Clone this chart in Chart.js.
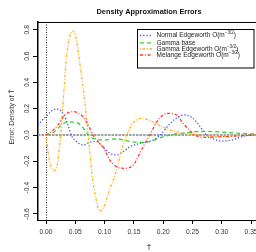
<!DOCTYPE html>
<html><head><meta charset="utf-8">
<script src="https://cdn.jsdelivr.net/npm/chart.js@4/dist/chart.umd.min.js"></script>
<style>html,body{margin:0;padding:0;background:#fff;overflow:hidden}canvas{display:block}</style>
</head><body>
<canvas id="c" width="256" height="252" style="width:256px;height:252px"></canvas>
<script>
const chartTitle = 'Density Approximation Errors';
const xTitle = 'T\u0304';
const yTitle = 'Error: Density of T\u0304';
const xTicks = [0, 0.05, 0.10, 0.15, 0.20, 0.25, 0.30, 0.35];
const yTicks = [-0.6, -0.4, -0.2, 0, 0.2, 0.4, 0.6, 0.8];
const legendMain = ['Normal Edgeworth O(m', 'Gamma base', 'Gamma Edgeworth O(m', 'Melange Edgeworth O(m'];
const legendSup = ['\u22123/2', '', '\u22123/2', '\u22123/2'];
const legendTail = [')', '', ')', ')'];

const normalT = [-0.0137,-0.006,0,0.008,0.0176,0.024,0.03,0.0375,0.043,0.052,0.063,0.075,0.086,0.097,0.108,0.12,0.131,0.143,0.155,0.166,0.183,0.195,0.212,0.229,0.237,0.25,0.262,0.274,0.287,0.3,0.315,0.33,0.342,0.3584];
const normalV = [0.076,0.115,0.14,0.178,0.198,0.188,0.155,0.076,0.0,-0.05,-0.076,-0.055,-0.05,-0.09,-0.135,-0.152,-0.13,-0.089,-0.07,-0.058,-0.038,0.0,0.089,0.145,0.152,0.13,0.07,0.0,-0.032,-0.046,-0.04,-0.02,-0.005,0.0];

const gammaT = [0,0.009,0.018,0.026,0.04,0.055,0.066,0.072,0.08,0.1,0.109,0.123,0.132,0.145,0.157,0.177,0.195,0.214,0.235,0.254,0.275,0.295,0.315,0.335,0.3584];
const gammaV = [0,0.01,0.04,0.076,0.1,0.089,0.038,0.0,-0.025,-0.038,-0.033,-0.03,-0.038,-0.05,-0.056,-0.05,-0.02,0.003,0.015,0.025,0.027,0.024,0.018,0.012,0.008];

const gEdgeT = [0,0.0034,0.008,0.0137,0.019,0.025,0.03,0.0347,0.041,0.046,0.052,0.0575,0.065,0.072,0.0785,0.085,0.0916,0.098,0.104,0.109,0.115,0.12,0.129,0.138,0.146,0.155,0.163,0.175,0.19,0.205,0.223,0.24,0.26,0.28,0.3,0.33,0.3584];
const gEdgeV = [0,-0.127,-0.23,-0.27,-0.23,0,0.3,0.58,0.76,0.79,0.72,0.55,0.3,0,-0.3,-0.48,-0.58,-0.55,-0.48,-0.41,-0.34,-0.27,-0.114,0,0.076,0.115,0.127,0.115,0.08,0.05,0.025,0.01,0,-0.01,-0.01,-0.005,0];

const melangeT = [0,0.009,0.0205,0.032,0.046,0.055,0.063,0.072,0.08,0.089,0.097,0.109,0.12,0.135,0.149,0.16,0.172,0.177,0.189,0.198,0.206,0.215,0.223,0.234,0.243,0.254,0.271,0.29,0.31,0.33,0.3584];
const melangeV = [0,0.025,0.076,0.152,0.178,0.165,0.139,0.076,0.0,-0.05,-0.089,-0.19,-0.24,-0.253,-0.228,-0.139,-0.038,0,0.1,0.145,0.165,0.162,0.152,0.089,0.045,0.0,-0.018,-0.015,-0.012,-0.006,0.0];

const colors = ['#2f4dff', '#2fd52f', '#ffb21c', '#ff3b30'];
const dashes = [[1.2, 2], [4, 3], [1, 1.6, 2.6, 1.6], [3, 1.8, 1, 1.8]];

function pts(t, v) { return t.map((x, i) => ({x: x, y: v[i]})); }
const seriesT = [normalT, gammaT, gEdgeT, melangeT];
const seriesV = [normalV, gammaV, gEdgeV, melangeV];

const FONT = '"Liberation Sans", Arial, sans-serif';

const decor = {
  id: 'decor',
  beforeDatasetsDraw(chart) {
    const {ctx, chartArea: a, scales: {x, y}} = chart;
    ctx.save();
    ctx.beginPath(); ctx.rect(a.left, a.top, a.right - a.left, a.bottom - a.top); ctx.clip();
    const y0 = y.getPixelForValue(0);
    ctx.strokeStyle = '#a0a0a0'; ctx.lineWidth = 2; ctx.setLineDash([2.5, 1]);
    ctx.beginPath(); ctx.moveTo(a.left, y0); ctx.lineTo(a.right, y0); ctx.stroke();
    const x0 = Math.round(x.getPixelForValue(0)) + 0.5;
    ctx.strokeStyle = '#222'; ctx.lineWidth = 1; ctx.setLineDash([1, 1.5]);
    ctx.beginPath(); ctx.moveTo(x0, a.top); ctx.lineTo(x0, a.bottom); ctx.stroke();
    ctx.restore();
  },
  afterDraw(chart) {
    const {ctx, chartArea: a, scales: {x, y}} = chart;
    ctx.save();
    ctx.strokeStyle = '#000'; ctx.lineWidth = 1;
    ctx.beginPath(); ctx.moveTo(a.left, a.top + 0.5); ctx.lineTo(a.right, a.top + 0.5); ctx.stroke();
    ctx.fillStyle = '#111';
    ctx.font = 'bold 7.4px ' + FONT;
    ctx.textAlign = 'center'; ctx.textBaseline = 'middle';
    ctx.fillText(chartTitle, 149, 12);
    ctx.font = '6.7px ' + FONT;
    ctx.fillStyle = '#333';
    yTicks.forEach(v => {
      const py = y.getPixelForValue(v);
      ctx.save(); ctx.translate(27, py); ctx.rotate(-Math.PI / 2);
      ctx.fillText(v.toFixed(1), 0, 0);
      ctx.restore();
    });
    ctx.font = '6.8px ' + FONT;
    ctx.save(); ctx.translate(12, 117); ctx.rotate(-Math.PI / 2);
    ctx.fillText(yTitle, 0, 0); ctx.restore();
    ctx.font = '7.5px ' + FONT;
    ctx.fillText(xTitle, 149, 248);
    const lx = 137.5, ly = 29.5, lw = 116.5, lh = 38.5;
    ctx.fillStyle = '#fff'; ctx.fillRect(lx, ly, lw, lh);
    ctx.strokeStyle = '#000'; ctx.lineWidth = 1; ctx.setLineDash([]);
    ctx.strokeRect(lx, ly, lw, lh);
    const rows = [35.5, 42.8, 49, 55];
    chart.data.datasets.forEach((ds, i) => {
      const ry = rows[i];
      ctx.strokeStyle = ds.borderColor; ctx.lineWidth = 1.3; ctx.setLineDash(ds.borderDash);
      ctx.beginPath(); ctx.moveTo(140, ry); ctx.lineTo(152, ry); ctx.stroke();
      ctx.setLineDash([]);
      ctx.fillStyle = '#222'; ctx.textAlign = 'left'; ctx.textBaseline = 'middle';
      ctx.font = '6.5px ' + FONT;
      let tx = 156.5;
      ctx.fillText(legendMain[i], tx, ry);
      tx += ctx.measureText(legendMain[i]).width;
      if (legendSup[i]) {
        ctx.font = '4.6px ' + FONT;
        ctx.fillText(legendSup[i], tx, ry - 2.6);
        tx += ctx.measureText(legendSup[i]).width;
        ctx.font = '6.5px ' + FONT;
        ctx.fillText(legendTail[i], tx, ry);
      }
    });
    ctx.restore();
  }
};

new Chart(document.getElementById('c'), {
  type: 'scatter',
  data: {
    datasets: seriesT.map((t, i) => ({
      label: legendMain[i],
      data: pts(t, seriesV[i]),
      showLine: true,
      borderColor: colors[i],
      backgroundColor: colors[i],
      borderWidth: 1.3,
      borderDash: dashes[i],
      pointRadius: 0,
      cubicInterpolationMode: 'monotone',
      order: 4 - i
    }))
  },
  options: {
    responsive: false,
    animation: false,
    devicePixelRatio: 1,
    layout: {padding: {top: 22, left: 0, right: 0, bottom: 0}},
    plugins: {legend: {display: false}, title: {display: false}, tooltip: {enabled: false}},
    scales: {
      x: {
        type: 'linear', min: -0.0137, max: 0.3584,
        afterBuildTicks: s => { s.ticks = xTicks.map(v => ({value: v})); },
        afterFit: s => { s.height = 32; s.paddingLeft = 0; s.paddingRight = 0; },
        ticks: {callback: v => Number(v).toFixed(2), font: {size: 6.7, family: FONT}, color: '#333', padding: 4, maxRotation: 0, minRotation: 0, autoSkip: false},
        grid: {drawOnChartArea: false, drawTicks: true, tickLength: 4, color: '#000'},
        border: {display: true, color: '#000', width: 1}
      },
      y: {
        type: 'linear', min: -0.646, max: 0.859,
        afterBuildTicks: s => { s.ticks = yTicks.map(v => ({value: v})); },
        afterFit: s => { s.width = 38; s.paddingTop = 0; s.paddingBottom = 0; },
        ticks: {display: false},
        grid: {drawOnChartArea: false, drawTicks: true, tickLength: 5, color: '#000'},
        border: {display: true, color: '#000', width: 1.5}
      }
    }
  },
  plugins: [decor]
});
</script>
</body></html>
